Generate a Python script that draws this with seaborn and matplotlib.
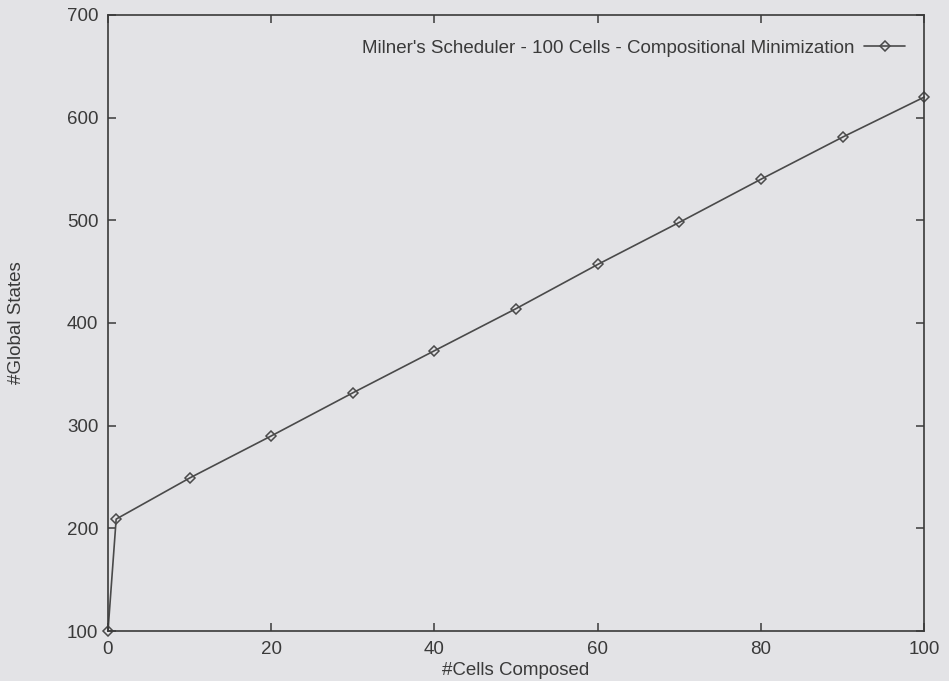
import pandas as pd
import seaborn as sns
import matplotlib.pyplot as plt

# data
cells = [0, 1, 10, 20, 30, 40, 50, 60, 70, 80, 90, 100]
states = [100, 209, 249, 290, 332, 373, 414, 457, 498, 540, 581, 620]
label = "Milner's Scheduler - 100 Cells - Compositional Minimization"

df = pd.DataFrame({"cells": cells, "states": states})

sns.set_style("ticks")
plt.rcParams["font.family"] = ["Liberation Sans", "DejaVu Sans"]

bg = "#e3e3e6"
ink = "#3a3a3a"

fig = plt.figure(figsize=(9.49, 6.81), dpi=100, facecolor=bg)
ax = fig.add_axes([0.1138, 0.0734, 0.86, 0.9046])
ax.set_facecolor(bg)

sns.lineplot(data=df, x="cells", y="states", ax=ax, color="#4a4a4a",
             linewidth=1.2, marker="D", markersize=5.5,
             markerfacecolor="none", markeredgecolor="#4a4a4a",
             markeredgewidth=1.1, label=label, clip_on=False)

ax.set_xlim(0, 100)
ax.set_ylim(100, 700)
ax.set_xticks(range(0, 101, 20))
ax.set_yticks(range(100, 701, 100))
ax.tick_params(direction="in", length=6, width=1.1, top=True, right=True,
               labelsize=13.5, colors=ink, pad=7)
for s in ax.spines.values():
    s.set_color(ink)
    s.set_linewidth(1.2)

ax.set_xlabel("#Cells Composed", fontsize=13.5, color=ink, labelpad=3)
ax.set_ylabel("#Global States", fontsize=13.5, color=ink, labelpad=30)

leg = ax.legend(loc="upper right", bbox_to_anchor=(1.0, 0.99), frameon=False,
                markerfirst=False, fontsize=13.5, handlelength=2.2,
                handletextpad=0.5, borderaxespad=0.6)
for t in leg.get_texts():
    t.set_color(ink)

plt.savefig("out.png", dpi=100, facecolor=bg)
